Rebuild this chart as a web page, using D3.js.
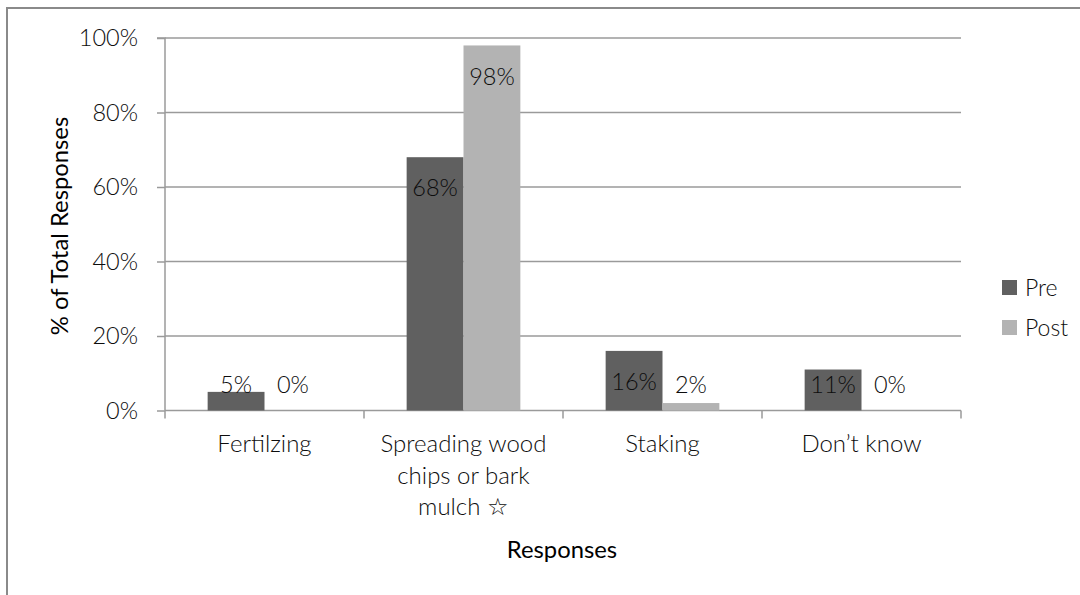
<!DOCTYPE html>
<html>
<head>
<meta charset="utf-8">
<script src="https://cdn.jsdelivr.net/npm/d3@7"></script>
<style>
  html, body { margin: 0; padding: 0; background: #ffffff; }
  svg { display: block; }
  text { font-family: Lato, "Open Sans", sans-serif; }
</style>
</head>
<body>
<svg id="chart" width="1080" height="595"></svg>
<script>
// ---- Data ----
const categories = ["Fertilzing", "Spreading wood chips or bark mulch \u2606", "Staking", "Don\u2019t know"];
const seriesNames = ["Pre", "Post"];
const preValues = [5, 68, 16, 11];
const postValues = [0, 98, 2, 0];
const yTicks = [0, 20, 40, 60, 80, 100];
const yTitle = "% of Total Responses";
const xTitle = "Responses";

// ---- Layout ----
const W = 1080, H = 595;
const plot = { left: 165, right: 961, top: 38, bottom: 410.5 };
const colors = { Pre: "#606060", Post: "#b3b3b3" };
const gridColor = "#9a9a9a";
const textColor = "#0d0d0d";
const FONT = "Lato, 'Open Sans', sans-serif";
const LIGHT = 300;

const svg = d3.select("#chart");

// chart border (extends past the right / bottom edge)
svg.append("rect")
  .attr("x", 7).attr("y", 8)
  .attr("width", W + 10).attr("height", H + 10)
  .attr("fill", "none").attr("stroke", "#8a8a8a").attr("stroke-width", 2);

const x0 = d3.scaleBand().domain(categories).range([plot.left, plot.right]).paddingInner(0).paddingOuter(0);
const groupW = x0.bandwidth() * (2 / 3.5);
const x1 = d3.scaleBand().domain(seriesNames).range([0, groupW]).padding(0);
const y = d3.scaleLinear().domain([0, 100]).range([plot.bottom, plot.top]);

// gridlines
svg.append("g").selectAll("line").data(yTicks.filter(d => d > 0)).join("line")
  .attr("x1", plot.left).attr("x2", plot.right)
  .attr("y1", d => y(d)).attr("y2", d => y(d))
  .attr("stroke", gridColor).attr("stroke-width", 1.5);

// y axis
const yAxis = d3.axisLeft(y).tickValues(yTicks).tickFormat(d => d + "%").tickSize(8).tickPadding(19);
const gy = svg.append("g").attr("transform", `translate(${plot.left},0)`).call(yAxis);
gy.select(".domain").attr("stroke", gridColor).attr("stroke-width", 1.5).attr("d", `M-8,${plot.top}H0V${plot.bottom}`);
gy.selectAll(".tick line").attr("stroke", gridColor).attr("stroke-width", 1.5);
gy.selectAll(".tick text").attr("fill", textColor).attr("font-size", 23.5).attr("font-weight", LIGHT)
  .attr("font-family", FONT);

// x axis baseline and boundary ticks
const boundaries = categories.map(c => x0(c)).concat([plot.right]);
svg.append("line").attr("x1", plot.left).attr("x2", plot.right)
  .attr("y1", plot.bottom).attr("y2", plot.bottom)
  .attr("stroke", gridColor).attr("stroke-width", 1.5);
svg.append("g").selectAll("line").data(boundaries).join("line")
  .attr("x1", d => d).attr("x2", d => d)
  .attr("y1", plot.bottom).attr("y2", plot.bottom + 8)
  .attr("stroke", gridColor).attr("stroke-width", 1.5);

// bars
const rows = categories.map((c, i) => ({ cat: c, vals: [
  { s: "Pre", v: preValues[i] }, { s: "Post", v: postValues[i] } ] }));
const groups = svg.append("g").selectAll("g").data(rows).join("g")
  .attr("transform", d => `translate(${x0(d.cat) + (x0.bandwidth() - groupW) / 2},0)`);
groups.selectAll("rect").data(d => d.vals).join("rect")
  .attr("x", d => x1(d.s)).attr("width", x1.bandwidth())
  .attr("y", d => y(d.v)).attr("height", d => plot.bottom - y(d.v))
  .attr("fill", d => colors[d.s]);

// data labels
groups.selectAll("text").data(d => d.vals).join("text")
  .attr("x", d => x1(d.s) + x1.bandwidth() / 2)
  .attr("y", d => Math.min(y(d.v) + 31, plot.bottom - 26))
  .attr("dy", "0.35em")
  .attr("text-anchor", "middle")
  .attr("font-size", 23.5).attr("font-weight", LIGHT).attr("fill", textColor)
  .text(d => d.v + "%");

// category labels with wrapping
const catG = svg.append("g").selectAll("text").data(categories).join("text")
  .attr("x", d => x0(d) + x0.bandwidth() / 2)
  .attr("y", 446)
  .attr("text-anchor", "middle")
  .attr("font-size", 24).attr("font-weight", LIGHT).attr("fill", textColor)
  .attr("dominant-baseline", "middle");
catG.each(function(d) {
  const el = d3.select(this);
  const words = d.split(" ");
  const maxW = x0.bandwidth() - 12;
  let lines = [], cur = [];
  const probe = el.append("tspan");
  words.forEach(w => {
    const test = cur.concat([w]).join(" ");
    probe.text(test);
    if (probe.node().getComputedTextLength() > maxW && cur.length) {
      lines.push(cur.join(" ")); cur = [w];
    } else cur.push(w);
  });
  if (cur.length) lines.push(cur.join(" "));
  probe.remove();
  lines.forEach((ln, i) => {
    el.append("tspan").attr("x", x0(d) + x0.bandwidth() / 2)
      .attr("dy", i === 0 ? 0 : 31.5).text(ln);
  });
});

// axis titles
svg.append("text")
  .attr("transform", `translate(62,226) rotate(-90)`)
  .attr("text-anchor", "middle").attr("dominant-baseline", "middle")
  .attr("font-size", 23.8).attr("font-weight", 400).attr("fill", "#000")
  .text(yTitle);
svg.append("text")
  .attr("x", 562).attr("y", 552)
  .attr("text-anchor", "middle").attr("dominant-baseline", "middle")
  .attr("font-size", 23.8).attr("font-weight", 400).attr("fill", "#000")
  .text(xTitle);

// legend
const leg = svg.append("g").selectAll("g").data(seriesNames).join("g")
  .attr("transform", (d, i) => `translate(1002,${287.5 + i * 40})`);
leg.append("rect").attr("x", 0).attr("y", -7.5).attr("width", 15).attr("height", 15)
  .attr("fill", d => colors[d]);
leg.append("text").attr("x", 23).attr("y", 0).attr("dy", "0.35em")
  .attr("font-size", 23).attr("font-weight", LIGHT).attr("fill", textColor)
  .text(d => d);
</script>
</body>
</html>
